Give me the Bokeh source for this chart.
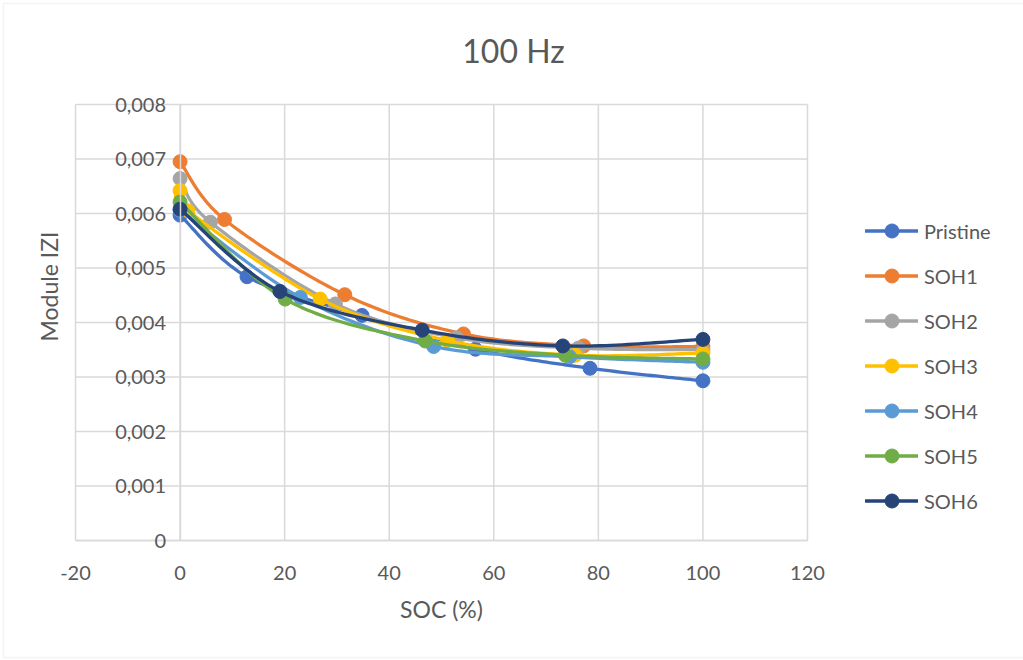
import numpy as np
from bokeh.plotting import figure
from bokeh.models import Range1d, FixedTicker, Legend, LegendItem, Label, BoxAnnotation
from bokeh.embed import file_html
from bokeh.resources import INLINE

# --- data: impedance modulus |Z| at 100 Hz versus state of charge -------------
series_names = ["Pristine", "SOH1", "SOH2", "SOH3", "SOH4", "SOH5", "SOH6"]

soc_pristine = [0, 12.8, 34.8, 56.5, 78.4, 100]
z_pristine = [0.00597, 0.00484, 0.00413, 0.00351, 0.00316, 0.00293]

soc_soh1 = [0, 8.5, 31.5, 54.2, 77.2, 100]
z_soh1 = [0.00695, 0.00589, 0.00451, 0.00379, 0.00357, 0.00356]

soc_soh2 = [0, 5.8, 29.7, 52.9, 76.2, 100]
z_soh2 = [0.00664, 0.00584, 0.00434, 0.00372, 0.00353, 0.00350]

soc_soh3 = [0, 1.5, 26.8, 51.2, 75.6, 100]
z_soh3 = [0.00642, 0.00605, 0.00443, 0.00367, 0.00340, 0.00344]

soc_soh4 = [0, 23.0, 48.5, 74.5, 100]
z_soh4 = [0.00606, 0.00446, 0.00356, 0.00337, 0.00327]

soc_soh5 = [0, 20.1, 46.9, 73.7, 100]
z_soh5 = [0.00621, 0.00443, 0.00366, 0.00340, 0.00333]

soc_soh6 = [0, 19.1, 46.3, 73.2, 100]
z_soh6 = [0.00608, 0.00457, 0.00386, 0.00357, 0.00369]

series_soc = [soc_pristine, soc_soh1, soc_soh2, soc_soh3, soc_soh4, soc_soh5, soc_soh6]
series_z = [z_pristine, z_soh1, z_soh2, z_soh3, z_soh4, z_soh5, z_soh6]
series_colors = ["#4472C4", "#ED7D31", "#A5A5A5", "#FFC000", "#5B9BD5", "#70AD47", "#264478"]

x_ticks = [-20, 0, 20, 40, 60, 80, 100, 120]
x_tick_labels = ["-20", "0", "20", "40", "60", "80", "100", "120"]
y_ticks = [0.0, 0.001, 0.002, 0.003, 0.004, 0.005, 0.006, 0.007, 0.008]
y_tick_labels = ["0", "0,001", "0,002", "0,003", "0,004", "0,005", "0,006", "0,007", "0,008"]

TEXT = "#595959"
GRID = "#D9D9D9"
FONT = "Lato"

# canvas geometry: the plotting area occupies these pixel bounds
W, H = 1023, 660
AREA_L, AREA_R, AREA_T, AREA_B = 75, 807, 104, 540
X0, X1 = x_ticks[0], x_ticks[-1]
Y0, Y1 = y_ticks[0], y_ticks[-1]
kx = (AREA_R - AREA_L) / (X1 - X0)
ky = (AREA_B - AREA_T) / (Y1 - Y0)


def smooth_curve(xs, ys, steps=30):
    """Cubic Bezier through the points with Catmull-Rom control points."""
    pts = np.column_stack([xs, ys]).astype(float)
    ext = np.vstack([pts[0], pts, pts[-1]])
    t = np.linspace(0.0, 1.0, steps)[:, None]
    parts = []
    for i in range(1, len(ext) - 2):
        p0, p1, p2, p3 = ext[i - 1], ext[i], ext[i + 1], ext[i + 2]
        c1 = p1 + (p2 - p0) / 6.0
        c2 = p2 - (p3 - p1) / 6.0
        seg = ((1 - t) ** 3) * p1 + 3 * ((1 - t) ** 2) * t * c1 + 3 * (1 - t) * (t ** 2) * c2 + (t ** 3) * p2
        parts.append(seg if i == 1 else seg[1:])
    curve = np.vstack(parts)
    return curve[:, 0], curve[:, 1]


p = figure(
    width=W, height=H,
    x_range=Range1d(X0 - AREA_L / kx, X1 + (W - AREA_R) / kx),
    y_range=Range1d(Y0 - (H - AREA_B) / ky, Y1 + AREA_T / ky),
    output_backend="svg", toolbar_location=None,
    min_border=0,
    background_fill_color="white", border_fill_color="white",
)
p.outline_line_color = None
p.xgrid.visible = False
p.ygrid.visible = False

# gridlines over the plotting area
p.segment(x0=x_ticks, y0=[Y0] * len(x_ticks), x1=x_ticks, y1=[Y1] * len(x_ticks),
          line_color=GRID, line_width=1.5)
p.segment(x0=[X0] * len(y_ticks), y0=y_ticks, x1=[X1] * len(y_ticks), y1=y_ticks,
          line_color=GRID, line_width=1.5)

# x axis along |Z| = 0
xa = p.xaxis[0]
xa.fixed_location = 0
xa.bounds = (X0, X1)
xa.ticker = FixedTicker(ticks=x_ticks)
xa.major_label_overrides = {v: s for v, s in zip(x_ticks, x_tick_labels)}
xa.axis_line_color = GRID
xa.axis_line_width = 1.5
xa.major_tick_line_color = None
xa.minor_tick_line_color = None
xa.major_label_standoff = 19
xa.major_label_text_font = FONT
xa.major_label_text_font_size = "20px"
xa.major_label_text_color = TEXT
xa.axis_label = "SOC (%)"
xa.axis_label_text_font = FONT
xa.axis_label_text_font_size = "23px"
xa.axis_label_text_font_style = "normal"
xa.axis_label_text_color = TEXT
xa.axis_label_standoff = 12

# y axis crossing at SOC = 0
ya = p.yaxis[0]
ya.fixed_location = 0
ya.bounds = (Y0, Y1)
ya.ticker = FixedTicker(ticks=y_ticks)
ya.major_label_overrides = {v: s for v, s in zip(y_ticks, y_tick_labels)}
ya.axis_line_color = GRID
ya.axis_line_width = 1.5
ya.major_tick_line_color = None
ya.minor_tick_line_color = None
ya.major_label_standoff = 8
ya.major_label_text_font = FONT
ya.major_label_text_font_size = "20px"
ya.major_label_text_color = TEXT

# series
items = []
for name, xs, ys, col in zip(series_names, series_soc, series_z, series_colors):
    cx, cy = smooth_curve(xs, ys)
    lr = p.line(cx, cy, line_color=col, line_width=3.3, line_join="round", line_cap="round")
    sr = p.scatter(xs, ys, size=14, fill_color=col, line_color=col, line_width=1)
    items.append(LegendItem(label=name, renderers=[lr, sr]))

legend = Legend(
    items=items, location=(865, 142),
    border_line_color=None, background_fill_alpha=0,
    glyph_width=53, glyph_height=35, label_height=35,
    spacing=10, padding=0, margin=0, label_standoff=6,
    label_text_font=FONT, label_text_font_size="20px", label_text_color=TEXT,
)
p.add_layout(legend)

# title and vertical axis title
p.add_layout(Label(x=513, y=50, x_units="canvas", y_units="canvas", text="100 Hz",
                   text_align="center", text_baseline="middle",
                   text_font=FONT, text_font_size="32px", text_color=TEXT))
p.add_layout(Label(x=48, y=286, x_units="canvas", y_units="canvas", text="Module IZI",
                   angle=np.pi / 2, text_align="center", text_baseline="middle",
                   text_font=FONT, text_font_size="23px", text_color=TEXT))

# chart border
p.add_layout(BoxAnnotation(left=3, right=1030, top=3, bottom=657,
                           left_units="canvas", right_units="canvas",
                           top_units="canvas", bottom_units="canvas",
                           fill_alpha=0, line_color=GRID, line_width=1.5))

open("out.html", "w").write(file_html(p, INLINE))
